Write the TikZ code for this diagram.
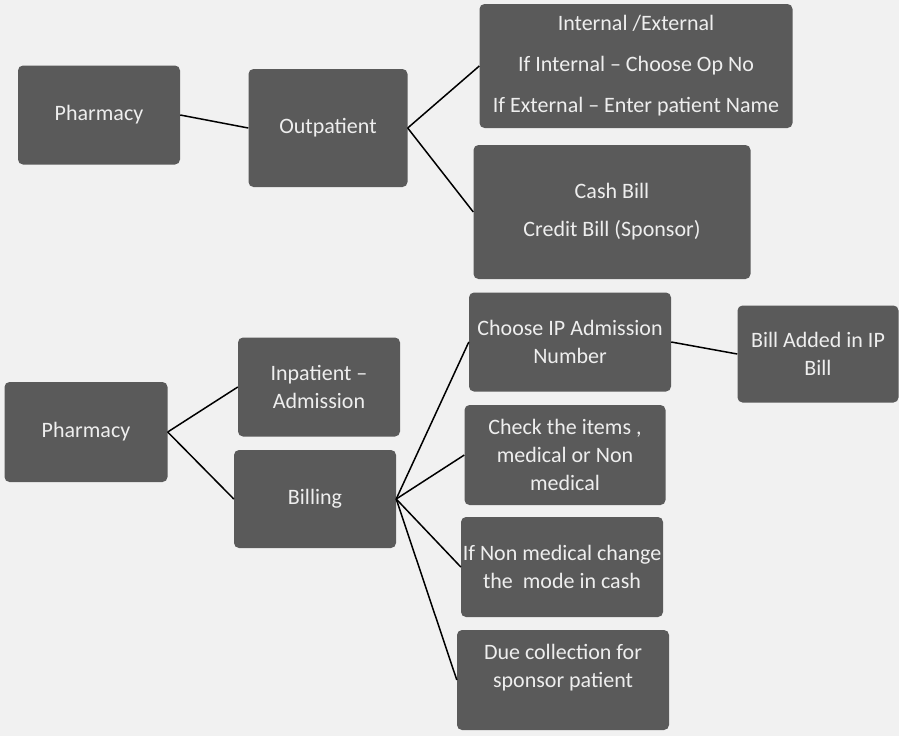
\documentclass[tikz,border=0pt]{standalone}
\usepackage{fontspec}
\setmainfont{Carlito}
\definecolor{boxgray}{HTML}{5A5A5A}
\definecolor{bggray}{HTML}{F1F1F1}
\definecolor{txtwhite}{HTML}{EEEEEE}
\begin{document}
\begin{tikzpicture}[x=1pt,y=-1pt,
  box/.style={draw=none, fill=boxgray, rounded corners=5pt, text=txtwhite,
    align=center, inner sep=2pt, font=\fontsize{22}{28}\selectfont},
  link/.style={draw=black, line width=1.5pt}]
\fill[bggray] (0,0) rectangle (899,736);
\useasboundingbox (0,0) rectangle (899,736);
% top tree
\node[box, minimum width=162pt, minimum height=99pt] (ph1) at (99,115) {Pharmacy};
\node[box, minimum width=159pt, minimum height=118pt] (out) at (328,128) {Outpatient};
\node[box, minimum width=313pt, minimum height=124pt] (ie) at (636,66)
  {Internal /External\\[13pt]If Internal -- Choose Op No\\[13pt]If External -- Enter patient Name};
\node[box, minimum width=277pt, minimum height=134pt] (cash) at (612,212)
  {Cash Bill\\[10pt]Credit Bill (Sponsor)};
% bottom tree
\node[box, minimum width=163pt, minimum height=100pt] (ph2) at (86,432) {Pharmacy};
\node[box, minimum width=162pt, minimum height=99pt] (inp) at (319,387) {Inpatient --\\Admission};
\node[box, minimum width=162pt, minimum height=98pt] (bill) at (315,499) {Billing};
\node[box, minimum width=202pt, minimum height=99pt] (cip) at (570,342) {Choose IP Admission\\Number};
\node[box, minimum width=161pt, minimum height=97pt] (bai) at (818,354) {Bill Added in IP\\Bill};
\node[box, minimum width=201pt, minimum height=100pt] (chk) at (565,455) {Check the items ,\\medical or Non\\medical};
\node[box, minimum width=202pt, minimum height=100pt, inner sep=1pt] (nonmed) at (562,567) {If Non medical change\\the\ \ mode in cash};
\node[box, minimum width=212pt, minimum height=100pt] (due) at (563,680) {Due collection for\\sponsor patient\\\mbox{}};
% connectors
\draw[link] (ph1.east) -- (out.west);
\draw[link] (out.east) -- (ie.west);
\draw[link] (out.east) -- (cash.west);
\draw[link] (ph2.east) -- (inp.west);
\draw[link] (ph2.east) -- (bill.west);
\draw[link] (bill.east) -- (cip.west);
\draw[link] (bill.east) -- (chk.west);
\draw[link] (bill.east) -- (nonmed.west);
\draw[link] (bill.east) -- (due.west);
\draw[link] (cip.east) -- (bai.west);
\end{tikzpicture}
\end{document}
